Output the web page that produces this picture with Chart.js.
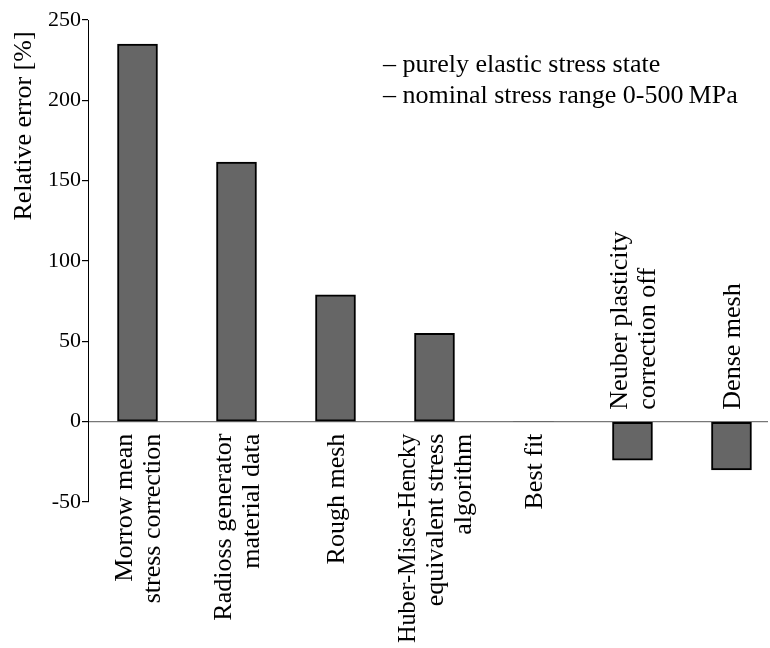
<!DOCTYPE html>
<html>
<head>
<meta charset="utf-8">
<script src="https://cdn.jsdelivr.net/npm/chart.js@4.4.1/dist/chart.umd.min.js"></script>
<style>
  body { margin: 0; background: #fff; }
  #wrap { width: 770px; height: 648px; position: relative; }
  #probe { position: absolute; left: -9999px; top: 0; font-family: "Liberation Serif"; font-size: 26px; }
</style>
</head>
<body>
<div id="wrap"><canvas id="grafica" width="770" height="648"></canvas></div>
<span id="probe">Relative error 0-500 MPa</span>
<script>
// data
var categories = [
  ['Morrow mean', 'stress correction'],
  ['Radioss generator', 'material data'],
  ['Rough mesh'],
  ['Huber-Mises-Hencky', 'equivalent stress', 'algorithm'],
  ['Best fit'],
  ['Neuber plasticity', 'correction off'],
  ['Dense mesh']
];
var relativeError = [235, 161.5, 79, 55, 0, -24, -30];
var yTicks = [-50, 0, 50, 100, 150, 200, 250];
var yTitle = 'Relative error [%]';
var notes = ['\u2013 purely elastic stress state', '\u2013 nominal stress range 0-500\u2009MPa'];

var serif = '"Liberation Serif", "Times New Roman", "DejaVu Serif", serif';

var puntos = [];
for (var i = 0; i < relativeError.length; i++) {
  puntos.push({ x: i, y: relativeError[i] });
}

// category labels sit at the zero line, on the side away from the bar
var etiquetas = {
  id: 'etiquetas',
  afterDraw: function(chart) {
    var ctx = chart.ctx;
    var xs = chart.scales.x, ys = chart.scales.y;
    var y0 = ys.getPixelForValue(0);
    var lh = 28;
    var room = chart.height - (y0 + 12) - 5;
    ctx.save();
    ctx.fillStyle = '#000';
    ctx.font = '26px ' + serif;
    ctx.textBaseline = 'middle';
    for (var i = 0; i < categories.length; i++) {
      var lines = categories[i];
      var cx = xs.getPixelForValue(i) + 2;
      var neg = relativeError[i] < 0;
      ctx.save();
      ctx.translate(cx, neg ? y0 - 12 : y0 + 12);
      ctx.rotate(-Math.PI / 2);
      ctx.textAlign = neg ? 'left' : 'right';
      for (var k = 0; k < lines.length; k++) {
        ctx.fillText(lines[k], 0, (k - (lines.length - 1) / 2) * lh, room);
      }
      ctx.restore();
    }
    // axis title
    ctx.save();
    ctx.translate(24, 126);
    ctx.rotate(-Math.PI / 2);
    ctx.textAlign = 'center';
    ctx.fillText(yTitle, 0, 0);
    ctx.restore();
    // notes top right
    ctx.textAlign = 'left';
    ctx.textBaseline = 'alphabetic';
    for (var n = 0; n < notes.length; n++) {
      ctx.fillText(notes[n], 383, 72 + n * 31);
    }
    ctx.restore();
  }
};

function dibujar() {
  var ctx = document.getElementById('grafica').getContext('2d');
  new Chart(ctx, {
    type: 'bar',
    data: {
      datasets: [{
        data: puntos,
        backgroundColor: '#666666',
        borderColor: '#000000',
        borderWidth: function(c) { return c.raw && c.raw.y === 0 ? 0 : 2; },
        borderSkipped: false,
        barThickness: 40
      }]
    },
    options: {
      responsive: false,
      animation: false,
      devicePixelRatio: 1,
      layout: { padding: { left: 0, top: 20, right: 2, bottom: 146 } },
      plugins: { legend: { display: false }, tooltip: { enabled: false } },
      scales: {
        x: {
          type: 'linear',
          offset: false,
          min: -0.5,
          max: 6.369,
          display: false
        },
        y: {
          min: -50,
          max: 250,
          afterBuildTicks: function(s) {
            s.ticks = yTicks.map(function(v) { return { value: v }; });
          },
          afterFit: function(s) { s.width = 88; },
          border: { display: true, color: '#000', width: 1 },
          grid: {
            drawOnChartArea: true,
            drawTicks: true,
            tickLength: 6,
            tickColor: '#000',
            color: function(c) { return c.tick && c.tick.value === 0 ? '#777' : 'rgba(0,0,0,0)'; },
            lineWidth: 1.2
          },
          ticks: {
            color: '#000',
            padding: 1,
            font: { family: serif, size: 22 }
          }
        }
      }
    },
    plugins: [etiquetas]
  });
}

var cargas = [
  document.fonts.load('26px "Liberation Serif"'),
  document.fonts.load('26px "DejaVu Serif"')
];
Promise.all(cargas).then(function() { return document.fonts.ready; }).then(dibujar, dibujar);
</script>
</body>
</html>
